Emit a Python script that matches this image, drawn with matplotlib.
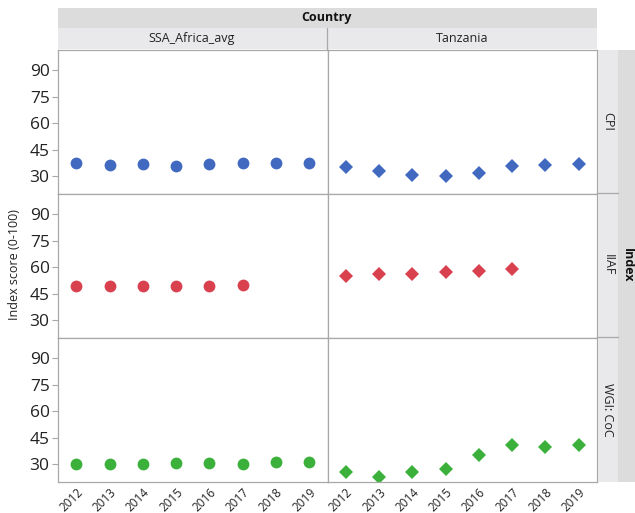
import matplotlib.pyplot as plt
from matplotlib.patches import Rectangle
import numpy as np

years = ['2012', '2013', '2014', '2015', '2016', '2017', '2018', '2019']
countries = ['SSA_Africa_avg', 'Tanzania']
indices = ['CPI', 'IIAF', 'WGI: CoC']

# values (None = no data)
cpi_ssa = [37.4, 36.5, 37.0, 35.9, 37.0, 37.6, 37.6, 37.8]
cpi_tza = [35.2, 33.1, 30.9, 30.0, 32.0, 35.9, 36.3, 37.2]
iiaf_ssa = [49.7, 49.7, 49.3, 49.7, 49.7, 50.0, None, None]
iiaf_tza = [55.3, 56.1, 56.1, 57.6, 57.9, 58.9, None, None]
wgi_ssa = [30.4, 30.2, 30.4, 30.75, 30.6, 30.4, 31.1, 31.1]
wgi_tza = [25.5, 22.9, 25.5, 27.6, 35.1, 41.1, 39.6, 41.1]

data = [[cpi_ssa, cpi_tza], [iiaf_ssa, iiaf_tza], [wgi_ssa, wgi_tza]]
colors = ['#4169c0', '#d9414f', '#3bb03b']
markers = ['o', 'D']
msizes = [8.5, 7.5]

yticks = [30, 45, 60, 75, 90]
edge = '#a8a8a8'

plt.rcParams['font.family'] = ['Open Sans', 'DejaVu Sans']

W, H = 635, 513
fig, axes = plt.subplots(3, 2, figsize=(6.35, 5.13), dpi=100, sharex=True, sharey=True)
fig.subplots_adjust(left=58/W, right=597/W, top=1-50/H, bottom=1-482/H, wspace=0, hspace=0)

x = np.arange(len(years))
for r in range(3):
    for c in range(2):
        ax = axes[r, c]
        vals = np.array([np.nan if v is None else v for v in data[r][c]], dtype=float)
        ax.plot(x, vals, linestyle='none', marker=markers[c], ms=msizes[c],
                color=colors[r], markeredgewidth=0)
        ax.set_xlim(-0.55, 7.55)
        ax.set_ylim(20, 101.5)
        for s in ax.spines.values():
            s.set_color(edge)
            s.set_linewidth(0.9)
        ax.tick_params(colors=edge, width=0.8, length=4)
        ax.set_yticks(yticks)
        ax.set_xticks(x)
        ax.tick_params(axis='y', labelsize=12.5, labelcolor='#222222', pad=2)
        ax.tick_params(axis='x', labelsize=8.5, labelcolor='#222222', length=0, pad=3)
        if c == 1:
            ax.tick_params(axis='y', left=False)
        if r < 2:
            ax.tick_params(axis='x', bottom=False)
    axes[r, 0].set_yticklabels([str(v) for v in yticks])

for ax in axes[2]:
    ax.set_xticklabels(years, rotation=45, ha='right', rotation_mode='anchor')

fig.text(15/W, 1-265/H, 'Index score (0-100)', rotation=90, ha='center', va='center',
         fontsize=9, color='#222222')

# column header strips
def frect(x0, y0, x1, y1, fc):
    fig.patches.append(Rectangle((x0/W, 1-y1/H), (x1-x0)/W, (y1-y0)/H,
                                 transform=fig.transFigure, facecolor=fc,
                                 edgecolor='none', zorder=0))

frect(58, 8, 597, 28, '#dcdcdc')
frect(58, 28, 597, 49, '#e9e9eb')
fig.add_artist(plt.Line2D([327/W, 327/W], [1-28/H, 1-50/H], color=edge, lw=0.9))
fig.text(327/W, 1-18/H, 'Country', ha='center', va='center', fontsize=9,
         fontweight='bold', color='#111111')
fig.text(192/W, 1-39/H, countries[0], ha='center', va='center', fontsize=9, color='#222222')
fig.text(462/W, 1-39/H, countries[1], ha='center', va='center', fontsize=9, color='#222222')

# row header strips
frect(598, 50, 618, 482, '#e9e9eb')
frect(618, 50, 635, 482, '#dcdcdc')
row_tops = [50, 193, 337, 482]
for i, name in enumerate(indices):
    yc = (row_tops[i] + row_tops[i+1]) / 2
    fig.text(608/W, 1-yc/H, name, rotation=-90, ha='center', va='center',
             fontsize=9, color='#222222')
for yy in [193, 337]:
    fig.add_artist(plt.Line2D([597/W, 618/W], [1-yy/H, 1-yy/H], color=edge, lw=0.9))
fig.text(627/W, 1-265/H, 'Index', rotation=-90, ha='center', va='center',
         fontsize=9, fontweight='bold', color='#111111')

fig.savefig('out.png', dpi=100)
